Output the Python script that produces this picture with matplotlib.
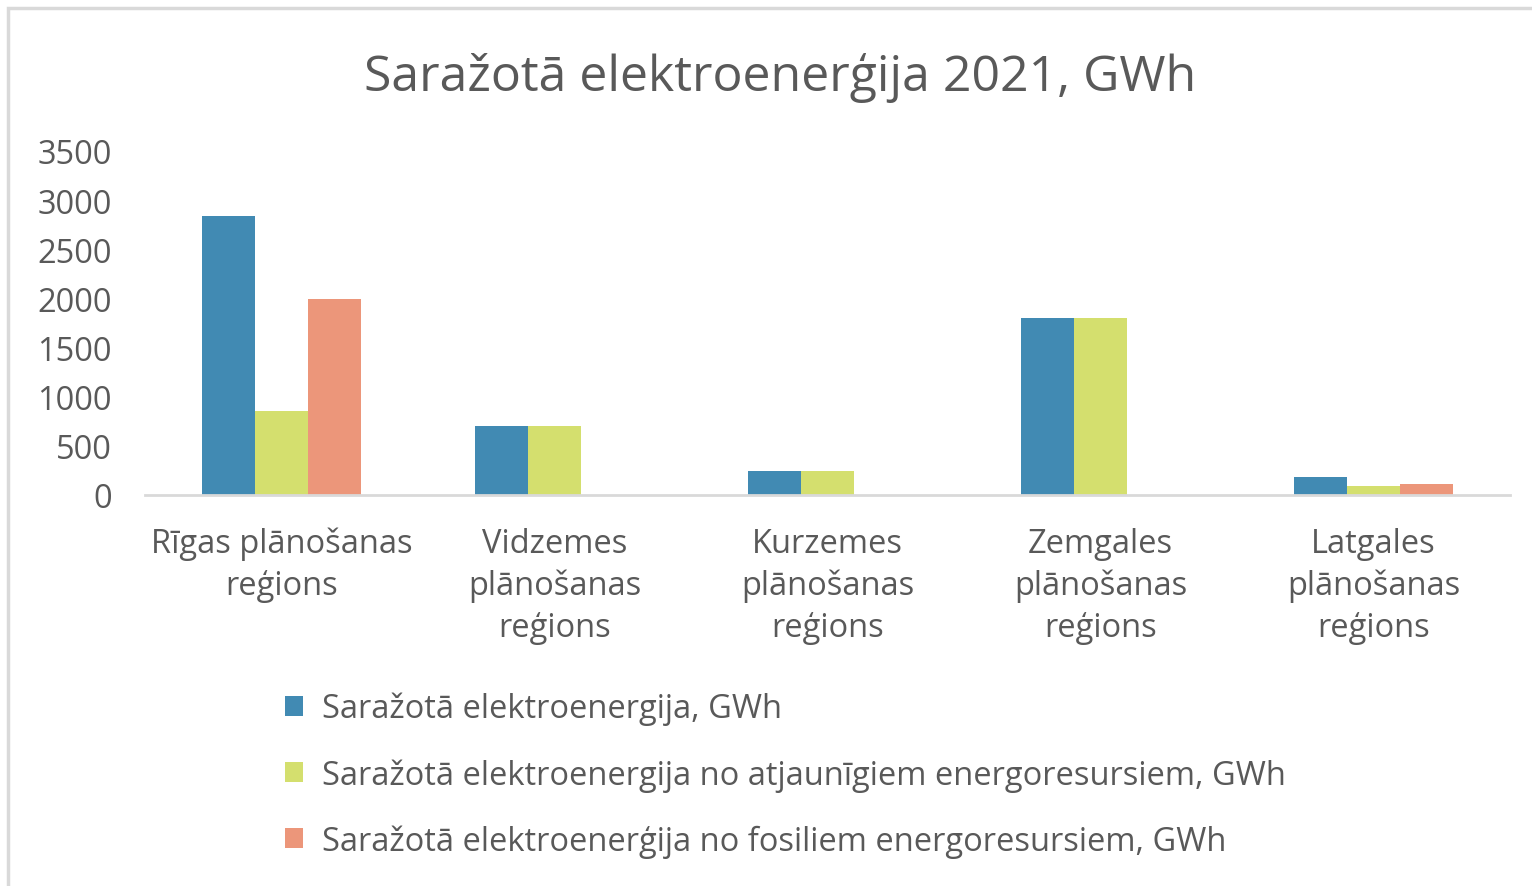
import matplotlib
matplotlib.use("Agg")
import matplotlib.pyplot as plt
import numpy as np
from matplotlib.patches import Rectangle

categories = ["Rīgas plānošanas\nreģions", "Vidzemes\nplānošanas\nreģions",
              "Kurzemes\nplānošanas\nreģions", "Zemgales\nplānošanas\nreģions",
              "Latgales\nplānošanas\nreģions"]
series_names = ["Saražotā elektroenergija, GWh",
                "Saražotā elektroenergija no atjaunīgiem energoresursiem, GWh",
                "Saražotā elektroenerģija no fosiliem energoresursiem, GWh"]
total = [2840, 702, 244, 1801, 183]
renewable = [855, 702, 244, 1801, 92]
fossil = [1994, 0, 0, 0, 112]
yticks = [0, 500, 1000, 1500, 2000, 2500, 3000, 3500]

colors = ["#418AB3", "#D4DF6E", "#EC967A"]
txt = "#595959"
plt.rcParams['font.family'] = ['Open Sans', 'DejaVu Sans']

W, H = 1532, 887
fig = plt.figure(figsize=(W/100, H/100), dpi=100)
ax = fig.add_axes([145/W, 1-496/H, 1365/W, 344/H])

x = np.arange(len(categories))
bw = 0.193
for i, (vals, c, n) in enumerate(zip([total, renewable, fossil], colors, series_names)):
    ax.bar(x + (i-1)*bw, vals, width=bw, color=c, label=n, zorder=2)

fs = 23.5
ax.set_xlim(-0.5, len(categories)-0.5)
ax.set_ylim(0, 3500)
ax.set_yticks(yticks)
ax.set_yticklabels([str(v) for v in yticks], fontsize=fs, color=txt)
ax.set_xticks(x)
ax.set_xticklabels(categories, fontsize=fs, color=txt, linespacing=1.34)
ax.tick_params(axis='both', length=0)
ax.tick_params(axis='y', pad=24)
ax.tick_params(axis='x', pad=23)
for s in ['top', 'right', 'left']:
    ax.spines[s].set_visible(False)
ax.spines['bottom'].set_color('#D9D9D9')
ax.spines['bottom'].set_linewidth(2)

fig.text(780/W, 1-78/H, "Saražotā elektroenerģija 2021, GWh", ha='center', va='center',
         fontsize=36, color=txt)

handles, labels = ax.get_legend_handles_labels()
leg = fig.legend(handles, labels, loc='upper left', bbox_to_anchor=(285/W, 1-693/H),
                 frameon=False, fontsize=fs, labelcolor=txt, handlelength=0.55,
                 handleheight=0.55, handletextpad=0.58, labelspacing=1.0,
                 borderpad=0, borderaxespad=0)

fig.patches.append(Rectangle((8/W, -0.1), 1.2, 1-9/H+0.1, transform=fig.transFigure,
                             fill=False, edgecolor='#D9D9D9', linewidth=2.5))

fig.savefig("out.png", dpi=100)
